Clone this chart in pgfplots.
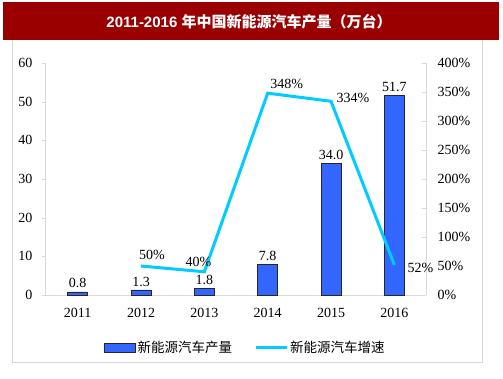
\documentclass[border=0pt]{standalone}
\usepackage{pgfplots}
\pgfplotsset{compat=1.18}
\usepackage{fontspec}
\setmainfont{Liberation Serif}
\newfontfamily\cjk{Noto Sans CJK SC}
\newfontfamily\tsans{Liberation Sans}
\definecolor{titlered}{HTML}{9B0000}
\definecolor{barblue}{HTML}{3366FF}
\definecolor{linecyan}{HTML}{00CCFF}
\definecolor{framegray}{HTML}{D9D9D9}
\pgfplotsset{
  barlegend/.style={legend image code/.code={\draw[##1] (0pt,-4.5pt) rectangle (31pt,4.5pt);}},
  linelegend/.style={legend image code/.code={\draw[##1] (0pt,0pt) -- (31pt,0pt);}},
}
\pgfplotstableread{
x y lab
0 0.8 0.8
1 1.3 1.3
2 1.8 1.8
3 7.8 7.8
4 34.0 34.0
5 51.7 51.7
}\prodtable
\pgfplotstableread{
x y lab dx dy
1 50 50\% 11 11
2 40 40\% -6 10
3 348 348\% 19 9
4 334 334\% 22 3
5 52 52\% 26 -3
}\ratetable
\begin{document}
\begin{tikzpicture}[x=1pt,y=1pt]
\useasboundingbox (0,0) rectangle (503,378);
\fill[titlered] (3,338) rectangle (499,376);
\node[text=white, inner sep=0pt] at (249,356) {\fontsize{15}{17}\selectfont\tsans\bfseries 2011-2016\ \cjk\bfseries 年中国新能源汽车产量（万台）};
\draw[framegray, line width=1pt] (12,338) -- (12,16) -- (482,16) -- (482,338);
\begin{axis}[
  at={(46pt,83pt)}, anchor=south west,
  width=380pt, height=232pt, scale only axis,
  xmin=-0.5, xmax=5.5, ymin=0, ymax=60,
  axis x line*=bottom, axis y line*=left,
  axis line style={draw=framegray, line width=1pt, -},
  xtick={0,1,2,3,4,5},
  xticklabels={2011,2012,2013,2014,2015,2016},
  ytick={0,10,...,60},
  major x tick style={draw=none},
  major y tick style={draw=framegray},
  tick align=outside, major tick length=4pt,
  /pgf/number format/assume math mode=true,
  tick label style={font=\fontsize{14}{16}\selectfont},
  xticklabel style={yshift=-6pt},
  yticklabel style={xshift=-6pt},
  legend style={at={(0.524,-0.228)}, anchor=center, legend columns=2, draw=none, fill=none,
    font=\fontsize{13.5}{15}\selectfont\cjk,
    /tikz/every even column/.append style={column sep=20pt},
    inner sep=0pt},
  legend cell align=left,
  clip=false,
]
\addplot[ybar, bar width=20pt, fill=barblue, draw=black!85, line width=0.8pt,
  nodes near coords, point meta=explicit symbolic,
  every node near coord/.append style={font=\fontsize{14}{16}\selectfont, text=black},
  barlegend]
  table[x=x, y=y, meta=lab] {\prodtable};
\addlegendentry{新能源汽车产量}
\addlegendimage{linecyan, line width=3pt, linelegend}
\addlegendentry{新能源汽车增速}
\end{axis}
\begin{axis}[
  at={(46pt,83pt)}, anchor=south west,
  width=380pt, height=232pt, scale only axis,
  xmin=-0.5, xmax=5.5, ymin=0, ymax=400,
  axis y line*=right, axis x line=none,
  axis line style={draw=framegray, line width=1pt, -},
  ytick={0,50,...,400},
  yticklabel={\pgfmathprintnumber{\tick}\%},
  major y tick style={draw=framegray},
  tick align=inside, major tick length=4pt,
  /pgf/number format/assume math mode=true,
  tick label style={font=\fontsize{14}{16}\selectfont},
  yticklabel style={anchor=west, xshift=8pt},
  clip=false,
]
\addplot[linecyan, line width=3pt, mark=none,
  nodes near coords, point meta=explicit symbolic,
  visualization depends on={\thisrow{dx} \as \dx},
  visualization depends on={\thisrow{dy} \as \dy},
  every node near coord/.append style={font=\fontsize{14}{16}\selectfont, text=black, anchor=center, xshift=\dx, yshift=\dy}]
  table[x=x, y=y, meta=lab] {\ratetable};
\end{axis}
\end{tikzpicture}
\end{document}
